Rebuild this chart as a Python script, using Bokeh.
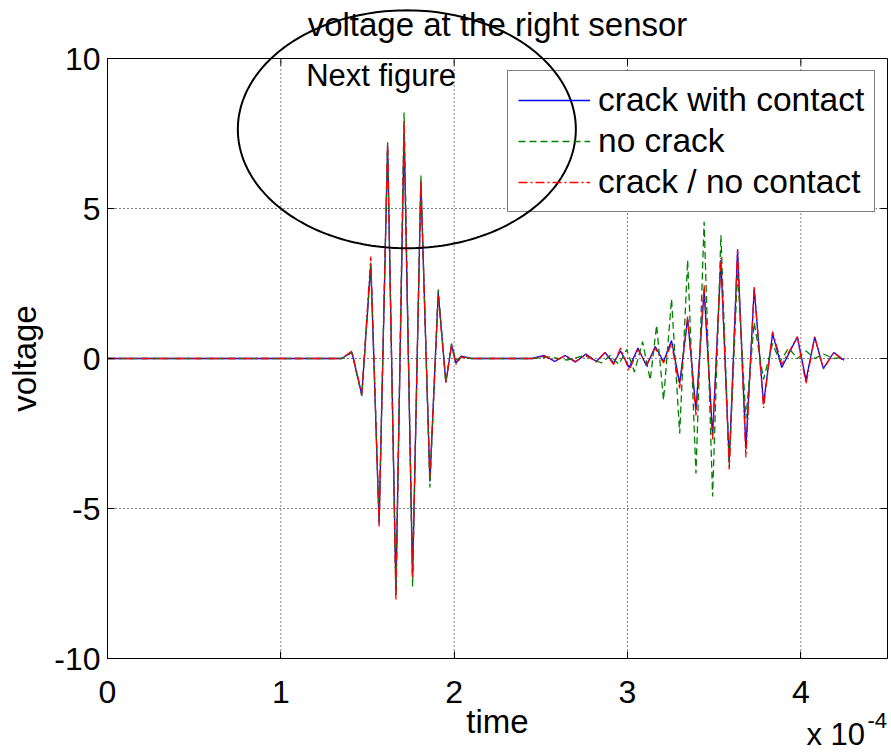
import numpy as np
from bokeh.plotting import figure
from bokeh.models import (FixedTicker, Legend, LegendItem, Label, PolyAnnotation,
                          PrintfTickFormatter, BoxAnnotation)
from bokeh.embed import file_html
from bokeh.resources import INLINE

# ---- data (time in units of 1e-4 s, voltage) ----
t_contact = [0.0, 1.35, 1.41, 1.467, 1.519, 1.567, 1.616, 1.664, 1.711, 1.76, 1.808, 1.86, 1.908,
             1.952, 1.985, 2.01, 2.04, 2.10, 2.45, 2.52, 2.58, 2.64, 2.70, 2.76, 2.82, 2.87, 2.92,
             2.96, 3.01, 3.06, 3.11, 3.16, 3.208, 3.254, 3.301, 3.347, 3.395, 3.442, 3.491, 3.539,
             3.587, 3.635, 3.683, 3.731, 3.785, 3.837, 3.89, 3.98, 4.03, 4.08, 4.13, 4.19, 4.25]
v_contact = [0.0, 0.0, 0.2, -1.2, 3.1, -5.5, 7.1, -7.7, 7.5, -7.3, 5.9, -4.1, 2.2,
             -0.8, 0.45, -0.15, 0.08, 0.0, 0.0, 0.1, -0.1, 0.1, -0.12, 0.15, -0.1, 0.2, -0.15,
             0.25, -0.3, 0.35, -0.25, 0.4, -0.1, 0.6, -0.83, 1.33, -1.72, 2.28, -2.56, 3.28,
             -3.44, 3.61, -3.0, 2.33, -1.5, 0.83, -0.3, 0.72, -0.72, 0.72, -0.33, 0.2, -0.06]

t_nocrack = [0.0, 1.35, 1.41, 1.467, 1.519, 1.567, 1.616, 1.664, 1.711, 1.76, 1.808, 1.86, 1.908,
             1.952, 1.985, 2.01, 2.04, 2.10, 2.45, 2.55, 2.65, 2.75, 2.85, 2.90, 2.95, 2.995, 3.04,
             3.087, 3.131, 3.168, 3.208, 3.254, 3.301, 3.347, 3.395, 3.442, 3.491, 3.539, 3.587,
             3.635, 3.683, 3.731, 3.785, 3.837, 3.88, 3.93, 3.98, 4.03, 4.08, 4.13, 4.19, 4.25]
v_nocrack = [0.0, 0.0, 0.2, -1.25, 3.2, -5.4, 7.2, -7.9, 8.2, -7.6, 6.1, -4.3, 2.3,
             -0.8, 0.5, -0.05, 0.05, 0.0, 0.0, 0.05, -0.05, 0.1, -0.15, 0.1, -0.2, 0.3, -0.45,
             0.56, -0.72, 1.11, -1.39, 1.98, -2.5, 3.28, -3.83, 4.56, -4.6, 4.11, -3.6,
             2.9, -2.0, 1.2, -0.7, 0.5, -0.1, 0.35, 0.0, 0.25, 0.0, 0.15, 0.0, 0.05]

t_nocontact = [0.0, 1.35, 1.41, 1.467, 1.519, 1.567, 1.616, 1.664, 1.711, 1.76, 1.808, 1.86, 1.908,
               1.952, 1.985, 2.01, 2.04, 2.10, 2.45, 2.52, 2.58, 2.64, 2.70, 2.76, 2.82, 2.87, 2.92,
               2.96, 3.01, 3.06, 3.11, 3.16, 3.208, 3.254, 3.301, 3.347, 3.395, 3.442, 3.491, 3.539,
               3.587, 3.635, 3.683, 3.731, 3.785, 3.837, 3.89, 3.98, 4.03, 4.08, 4.13, 4.19, 4.25]
v_nocontact = [0.0, 0.0, 0.25, -1.2, 3.4, -5.6, 7.2, -8.05, 7.9, -7.3, 5.9, -4.0, 2.1,
               -0.8, 0.45, -0.2, 0.05, 0.0, 0.0, 0.08, -0.08, 0.1, -0.1, 0.12, -0.12, 0.2, -0.2,
               0.35, -0.4, 0.3, -0.2, 0.35, -0.15, 0.5, -1.0, 1.4, -1.9, 2.44, -2.7, 3.35,
               -3.7, 3.65, -3.3, 2.4, -1.65, 0.9, -0.2, 0.72, -0.85, 0.72, -0.35, 0.2, -0.1]

x_ticks = [0, 1, 2, 3, 4]
y_ticks = [-10, -5, 0, 5, 10]
x_lim = (0, 4.5)
y_lim = (-10, 10)
series_names = ["crack with contact", "no crack", "crack / no contact"]
title_text = "voltage at the right sensor"
x_label = "time"
y_label = "voltage"

# annotation ellipse (data units)
ell_cx, ell_cy, ell_w, ell_h = 1.727, 7.64, 1.95, 7.93

FONT = "Liberation Sans"
W, H = 891, 755
BOX_L, BOX_R, BOX_T, BOX_B = 107, 887, 58, 658      # axes box in canvas pixels
PX_X = (BOX_R - BOX_L) / (x_lim[1] - x_lim[0])     # pixels per x unit
PX_Y = (BOX_B - BOX_T) / (y_lim[1] - y_lim[0])     # pixels per y unit
view_x = (x_lim[0] - BOX_L / PX_X, x_lim[1] + (W - BOX_R) / PX_X)
view_y = (y_lim[0] - (H - BOX_B) / PX_Y, y_lim[1] + BOX_T / PX_Y)

def sx(px):   # canvas pixel column -> data x
    return x_lim[0] + (px - BOX_L) / PX_X

def sy(py):   # canvas pixel row -> data y
    return y_lim[1] - (py - BOX_T) / PX_Y

LEG_L, LEG_R, LEG_T, LEG_B = 507, 875, 70, 212      # legend box in canvas pixels

p = figure(width=W, height=H, x_range=view_x, y_range=view_y,
           output_backend="svg", toolbar_location=None,
           min_border_left=0, min_border_right=0, min_border_top=0, min_border_bottom=0)
p.outline_line_color = None
p.xgrid.visible = False
p.ygrid.visible = False

for ax in (p.xaxis[0], p.yaxis[0]):
    ax.major_label_text_font = FONT
    ax.major_label_text_font_size = "32px"
    ax.major_label_text_color = "black"
    ax.major_tick_in = 7
    ax.major_tick_out = 0
    ax.minor_tick_line_color = None
    ax.axis_line_color = "black"
    ax.major_tick_line_color = "black"
    ax.formatter = PrintfTickFormatter(format="%d")

p.xaxis.ticker = FixedTicker(ticks=x_ticks)
p.yaxis.ticker = FixedTicker(ticks=y_ticks)
p.xaxis.bounds = x_lim
p.yaxis.bounds = y_lim
p.xaxis.fixed_location = y_lim[0]
p.yaxis.fixed_location = x_lim[0]
p.xaxis.major_label_standoff = 22
p.yaxis.major_label_standoff = 7

# dotted grid inside the box
gx = [t for t in x_ticks if x_lim[0] < t < x_lim[1]]
gy = [t for t in y_ticks if y_lim[0] < t < y_lim[1]]
p.segment(x0=gx, y0=[y_lim[0]] * len(gx), x1=gx, y1=[y_lim[1]] * len(gx),
          line_color="black", line_dash="1 3", line_width=1)
p.segment(x0=[x_lim[0]] * len(gy), y0=gy, x1=[x_lim[1]] * len(gy), y1=gy,
          line_color="black", line_dash="1 3", line_width=1)
# inward tick marks on the top and right sides
p.segment(x0=gx, y0=[y_lim[1]] * len(gx), x1=gx, y1=[y_lim[1] - 7 / PX_Y] * len(gx),
          line_color="black", line_width=1)
p.segment(x0=[x_lim[1]] * len(gy), y0=gy, x1=[x_lim[1] - 7 / PX_X] * len(gy), y1=gy,
          line_color="black", line_width=1)

r1 = p.line(t_contact, v_contact, line_color="#0000ff", line_width=1.3)
r2 = p.line(t_nocrack, v_nocrack, line_color="#008000", line_width=1.3, line_dash="7 4")
r3 = p.line(t_nocontact, v_nocontact, line_color="#ff0000", line_width=1.3, line_dash="9 3 2 3")

# axes box
p.add_layout(BoxAnnotation(left=x_lim[0], right=x_lim[1], bottom=y_lim[0], top=y_lim[1],
                           fill_color=None, fill_alpha=0, line_color="black", line_alpha=1.0,
                           line_width=1))
# white legend background (legend itself is transparent so the ellipse shows over it)
p.add_layout(BoxAnnotation(left=sx(LEG_L), right=sx(LEG_R), bottom=sy(LEG_B), top=sy(LEG_T),
                           fill_color="white", fill_alpha=1.0, line_color=None))

# ellipse annotation
theta = np.linspace(0, 2 * np.pi, 241)
ell = PolyAnnotation(xs=list(ell_cx + ell_w / 2 * np.cos(theta)),
                     ys=list(ell_cy + ell_h / 2 * np.sin(theta)),
                     fill_color=None, fill_alpha=0, line_color="black", line_alpha=1.0,
                     line_width=2)
p.add_layout(ell)

legend = Legend(items=[LegendItem(label=series_names[0], renderers=[r1]),
                       LegendItem(label=series_names[1], renderers=[r2]),
                       LegendItem(label=series_names[2], renderers=[r3])],
                location=(LEG_L, H - LEG_B))
legend.label_text_font = FONT
legend.label_text_font_size = "33.5px"
legend.label_text_color = "black"
legend.glyph_width = 72
legend.glyph_height = 38
legend.label_height = 38
legend.label_standoff = 8
legend.spacing = 3
legend.padding = 10
legend.margin = 0
legend.border_line_color = "black"
legend.border_line_width = 1
legend.background_fill_alpha = 0.0
p.add_layout(legend, "center")

# texts
p.add_layout(Label(x=(x_lim[0] + x_lim[1]) / 2, y=y_lim[1] + 34 / PX_Y, text=title_text,
                   text_font=FONT, text_font_size="33px", text_color="black",
                   text_align="center", text_baseline="alphabetic"))
p.add_layout(Label(x=(x_lim[0] + x_lim[1]) / 2, y=y_lim[0] - 63 / PX_Y, text=x_label,
                   text_font=FONT, text_font_size="33px", text_color="black",
                   text_align="center", text_baseline="alphabetic"))
p.add_layout(Label(x=x_lim[0] - 83 / PX_X, y=0, text=y_label, angle=np.pi / 2,
                   text_font=FONT, text_font_size="33px", text_color="black",
                   text_align="center", text_baseline="alphabetic"))
p.add_layout(Label(x=1.146, y=9.45, text="Next figure", text_font=FONT,
                   text_font_size="31px", text_color="black", text_baseline="alphabetic"))
p.add_layout(Label(x=x_lim[1] - 81 / PX_X, y=y_lim[0] - 76 / PX_Y, text="x 10", text_font=FONT,
                   text_font_size="31px", text_color="black", text_baseline="alphabetic"))
p.add_layout(Label(x=x_lim[1] - 20 / PX_X, y=y_lim[0] - 62 / PX_Y, text="-4", text_font=FONT,
                   text_font_size="22px", text_color="black", text_baseline="alphabetic"))

open("out.html", "w").write(file_html(p, INLINE))
